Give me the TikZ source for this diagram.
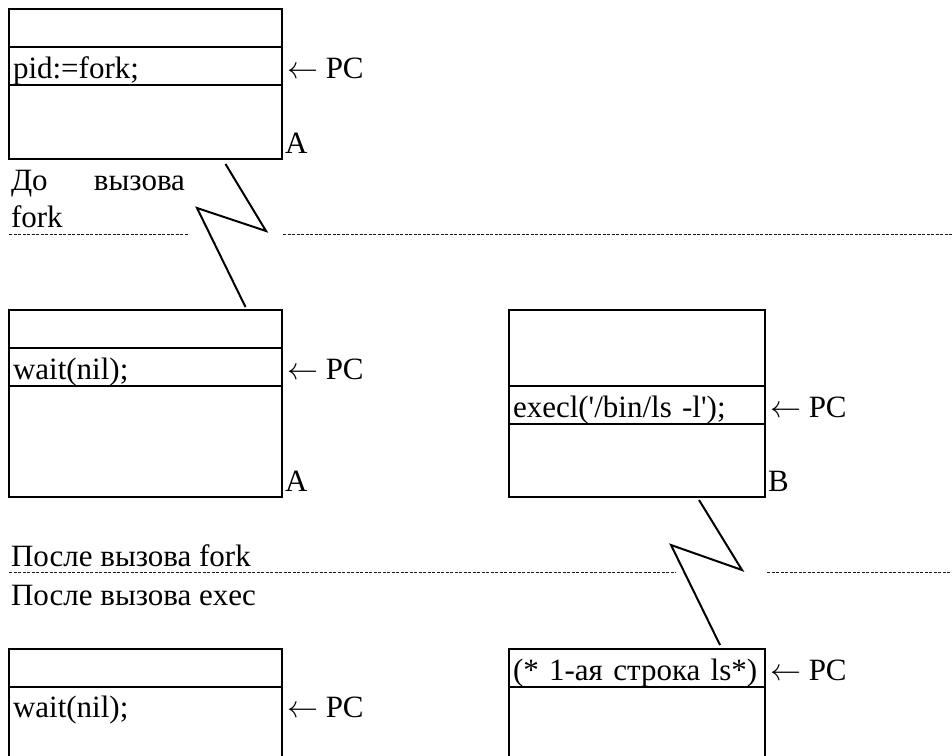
\RequirePackage{fix-cm}
\documentclass[tikz,border=0pt]{standalone}
\usepackage{fontspec}
\setmainfont{Liberation Serif}[Ligatures=TeXOff]
\usetikzlibrary{positioning}

\begin{document}
\begin{tikzpicture}[x=1pt, y=-1pt, line width=2pt,
    texto/.style={inner sep=0pt, outer sep=0pt, anchor=base west, font=\fontsize{31}{37}\selectfont},
    celda/.style={draw, line width=2pt, inner xsep=4pt, inner ysep=0pt, outer sep=0pt,
      align=left, text height=31pt, text depth=7pt, minimum height=38pt, anchor=north west,
      font=\fontsize{31}{37}\selectfont},
    anchaA/.style={minimum width=273pt, text width=265pt},
    anchaB/.style={minimum width=256pt, text width=248pt},
    separador/.style={line width=1pt, black!90, dash pattern=on 3pt off 1.5pt}]
    \clip (0,0) rectangle (952,755);

    % Proceso A antes de fork
    \node[celda, anchaA] (a1top) at (9,9) {};
    \node[celda, anchaA, below=0pt of a1top] (a1pc) {pid:=fork;};
    \node[celda, anchaA, below=0pt of a1pc, minimum height=74pt] (a1mem) {};
    \node[texto] (a1flecha) at ([xshift=5pt]a1pc.base east) {$\leftarrow$ PC};
    \node[texto] (a1nombre) at ([xshift=3pt, yshift=6pt]a1mem.south east) {A};
    \node[texto, text width=174pt, align=left] (antes) at (11,190) {До\hfill вызова\\fork};

    % Linea de corte 1
    \draw[separador] (9,234.5) -- (188,234.5);
    \draw[separador] (283,234.5) -- (952,234.5);

    % Proceso A despues de fork
    \node[celda, anchaA] (a2top) at (9,310) {};
    \node[celda, anchaA, below=0pt of a2top] (a2pc) {wait(nil);};
    \node[celda, anchaA, below=0pt of a2pc, minimum height=111pt] (a2mem) {};
    \node[texto] (a2flecha) at ([xshift=5pt]a2pc.base east) {$\leftarrow$ PC};
    \node[texto] (a2nombre) at ([xshift=3pt, yshift=6pt]a2mem.south east) {A};

    % Proceso B (hijo)
    \node[celda, anchaB, minimum height=76pt] (btop) at (509,310) {};
    \node[celda, anchaB, below=0pt of btop] (bpc) {execl('/bin/ls -l');};
    \node[celda, anchaB, below=0pt of bpc, minimum height=73pt] (bmem) {};
    \node[texto] (bflecha) at ([xshift=5pt]bpc.base east) {$\leftarrow$ PC};
    \node[texto] (bnombre) at ([xshift=3pt, yshift=6pt]bmem.south east) {B};

    % Rayo: fork
    \draw ([xshift=80pt, yshift=-5pt]a1mem.south) -- (266,231) -- (197,208)
      -- ([xshift=100pt, yshift=3pt]a2top.north);

    % Linea de corte 2
    \node[texto] (despfork) at (11,566) {После вызова fork};
    \draw[separador] (9,572) -- (676,572);
    \draw[separador] (767,572) -- (952,572);
    \node[texto] (despexec) at (11,605) {После вызова exec};

    % Proceso A despues de exec
    \node[celda, anchaA] (a3top) at (9,649) {};
    \node[celda, anchaA, below=0pt of a3top, minimum height=90pt] (a3mem) {};
    \node[texto] (a3pc) at ([xshift=4pt, yshift=-30pt]a3mem.north west) {wait(nil);};
    \node[texto] (a3flecha) at ([xshift=5pt, yshift=-30pt]a3mem.north east) {$\leftarrow$ PC};

    % Proceso B despues de exec
    \node[celda, anchaB] (b3pc) at (509,649) {(* 1-ая строка ls*)};
    \node[celda, anchaB, below=0pt of b3pc, minimum height=90pt] (b3mem) {};
    \node[texto] (b3flecha) at ([xshift=5pt]b3pc.base east) {$\leftarrow$ PC};

    % Rayo: exec
    \draw ([xshift=62pt, yshift=-3pt]bmem.south) -- (742,570) -- (671,545)
      -- ([xshift=83pt, yshift=4pt]b3pc.north);
\end{tikzpicture}
\end{document}
